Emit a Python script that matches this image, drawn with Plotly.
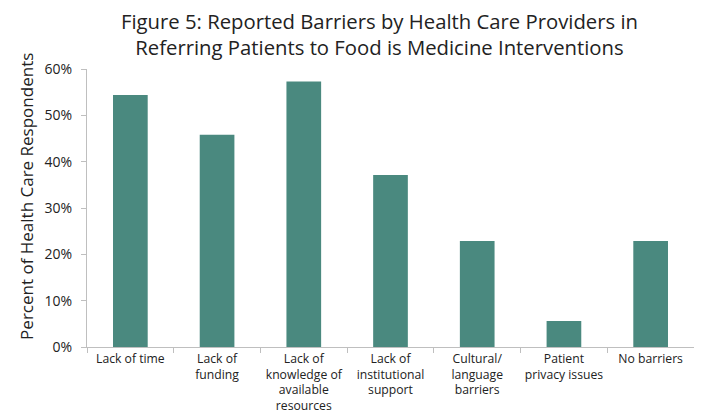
import plotly.graph_objects as go

categories = ["Lack of time", "Lack of<br>funding", "Lack of<br>knowledge of<br>available<br>resources",
              "Lack of<br>institutional<br>support", "Cultural/<br>language<br>barriers",
              "Patient<br>privacy issues", "No barriers"]
values = [0.544, 0.458, 0.573, 0.371, 0.229, 0.056, 0.229]
y_ticks = [0, 0.1, 0.2, 0.3, 0.4, 0.5, 0.6]
y_tick_labels = ["0%", "10%", "20%", "30%", "40%", "50%", "60%"]
title_lines = ["Figure 5: Reported Barriers by Health Care Providers in",
               "Referring Patients to Food is Medicine Interventions"]
y_title = "Percent of Health Care Respondents"

font_family = "Open Sans, sans-serif"

fig = go.Figure(go.Bar(x=categories, y=values, marker_color="#4A897F",
                       marker_line_width=0, width=0.40))

fig.update_layout(
    width=694, height=405,
    margin=dict(l=79, r=8, t=61, b=66, autoexpand=False),
    paper_bgcolor="white", plot_bgcolor="white",
    font=dict(family=font_family, color="#222222"),
    showlegend=False,
)
fig.add_annotation(text="<br>".join(title_lines), xref="paper", yref="paper", x=0.482,
                   y=1 + 35 / 278, xanchor="center", yanchor="middle", showarrow=False,
                   align="center", font=dict(size=20.3, color="#222222"))

fig.add_annotation(text=y_title, xref="paper", yref="paper", x=-60 / 607, y=0.54,
                   xanchor="center", yanchor="middle", textangle=-90, showarrow=False,
                   font=dict(size=17, color="#222222"))

fig.update_xaxes(showline=True, linecolor="#BFBFBF", linewidth=1, automargin=False,
                 ticks="outside", tickson="boundaries", ticklen=5, tickcolor="#BFBFBF",
                 tickangle=0, tickfont=dict(size=12.2), showgrid=False)
fig.update_yaxes(range=[0, 0.6], tickvals=y_ticks, ticktext=y_tick_labels, automargin=False,
                 showline=True, linecolor="#BFBFBF", linewidth=1,
                 ticks="outside", ticklen=5, tickcolor="#BFBFBF", ticklabelstandoff=6,
                 tickfont=dict(size=14), showgrid=False, zeroline=False)

fig.write_html("out.html")
